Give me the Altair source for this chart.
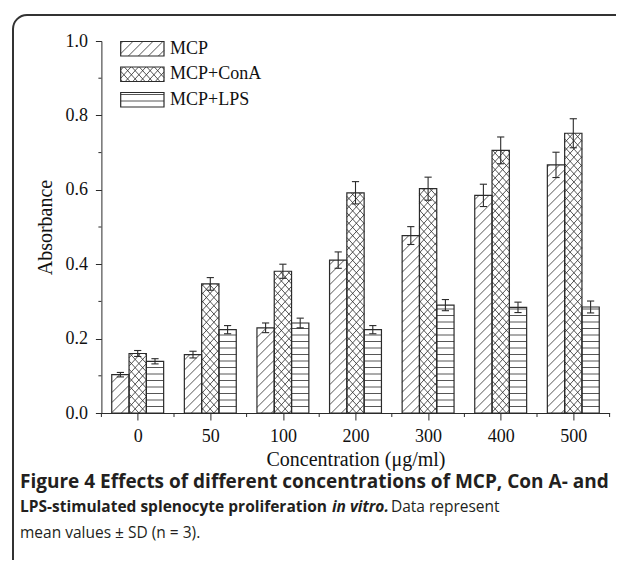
import math
import altair as alt
import pandas as pd

# ---------------- data ----------------
conc = ["0", "50", "100", "200", "300", "400", "500"]
series = ["MCP", "MCP+ConA", "MCP+LPS"]
mcp = [0.103, 0.157, 0.229, 0.411, 0.477, 0.585, 0.667]
mcp_sd = [0.006, 0.009, 0.013, 0.022, 0.024, 0.030, 0.034]
cona = [0.160, 0.347, 0.381, 0.592, 0.603, 0.706, 0.752]
cona_sd = [0.008, 0.017, 0.019, 0.030, 0.031, 0.036, 0.039]
lps = [0.139, 0.224, 0.242, 0.224, 0.290, 0.284, 0.285]
lps_sd = [0.007, 0.011, 0.013, 0.011, 0.015, 0.014, 0.016]
y_major = [0.0, 0.2, 0.4, 0.6, 0.8, 1.0]
y_minor = [0.1, 0.3, 0.5, 0.7, 0.9]

# ---------------- layout ----------------
W, H = 508.2, 372.0
XMIN, XMAX = -0.5, 6.5
PXX = W / (XMAX - XMIN)
PXY = H / 1.0
BW = 17.3 / PXX
INK = "#2b2b2b"
SERIF = "Liberation Serif"
SANS = "Open Sans"

xs = alt.Scale(domain=[XMIN, XMAX], nice=False, zero=False)
ys = alt.Scale(domain=[0, 1.0], nice=False, zero=False)

PATTERN = {"MCP": "diag", "MCP+ConA": "cross", "MCP+LPS": "horiz"}


def clip_line(s, c, x0, x1, y0, y1):
    xa, xb = c + y0 / s, c + y1 / s
    lo, hi = max(min(xa, xb), x0), min(max(xa, xb), x1)
    if hi - lo < 0.4:
        return None
    return (lo, s * (lo - c), hi, s * (hi - c))


def hatch(kind, x0, x1, y0, y1):
    """segments in pixel space (y up), clipped to the rectangle"""
    segs = []
    if kind == "horiz":
        sp = 6.5
        k = math.floor(y0 / sp)
        while k * sp < y1:
            yy = k * sp
            if yy > y0 + 0.8 and yy < y1 - 0.8:
                segs.append((x0, yy, x1, yy))
            k += 1
        return segs
    fams = [(1.0, 10.0)] if kind == "diag" else [(1.1, 7.5), (-1.1, 7.5)]
    for s, sp in fams:
        span = (y1 + 10) / abs(s)
        kmin = math.floor((x0 - span) / sp) - 1
        kmax = math.ceil((x1 + span) / sp) + 1
        for k in range(kmin, kmax + 1):
            seg = clip_line(s, k * sp, x0, x1, y0, y1)
            if seg:
                segs.append(seg)
    return segs


def px2d(xp, yp):
    return xp / PXX + XMIN, yp / PXY


bars, hat, errs = [], [], []
vals = {"MCP": (mcp, mcp_sd), "MCP+ConA": (cona, cona_sd), "MCP+LPS": (lps, lps_sd)}
for j, s in enumerate(series):
    v, sd = vals[s]
    for i, c in enumerate(conc):
        xc = i + (j - 1) * BW
        x0, x1 = xc - BW / 2, xc + BW / 2
        bars.append({"x0": x0, "x1": x1, "y0": 0.0, "v": v[i], "series": s, "conc": c})
        errs.append({"xc": xc, "lo": v[i] - sd[i], "hi": v[i] + sd[i],
                     "c0": xc - 3.6 / PXX, "c1": xc + 3.6 / PXX})
        px0, px1 = (x0 - XMIN) * PXX, (x1 - XMIN) * PXX
        for (a, b, cc, d) in hatch(PATTERN[s], px0, px1, 0.0, v[i] * PXY):
            xa, ya = px2d(a, b)
            xb, yb = px2d(cc, d)
            hat.append({"x": xa, "y": ya, "x2": xb, "y2": yb})

# legend drawn in the same coordinate space
leg_x0, leg_x1 = 19.3, 62.6          # plot pixels
leg_tops = [0.5, 26.0, 51.5]
leg_h = 14.5
leg_rows, leg_text = [], []
for s, top in zip(series, leg_tops):
    lx0, ly1 = px2d(leg_x0, H - top)
    lx1, ly0 = px2d(leg_x1, H - top - leg_h)
    leg_rows.append({"x0": lx0, "x1": lx1, "y0": ly0, "v": ly1})
    for (a, b, cc, d) in hatch(PATTERN[s], leg_x0, leg_x1, H - top - leg_h, H - top):
        xa, ya = px2d(a, b)
        xb, yb = px2d(cc, d)
        hat.append({"x": xa, "y": ya, "x2": xb, "y2": yb})
    tx, ty = px2d(leg_x1 + 6.0, H - top - leg_h / 2)
    leg_text.append({"x": tx, "y": ty, "label": s})

bars_df = pd.DataFrame(bars)
rect_df = pd.concat([bars_df[["x0", "x1", "y0", "v"]], pd.DataFrame(leg_rows)], ignore_index=True)
hat_df = pd.DataFrame(hat)
err_df = pd.DataFrame(errs)
legtxt_df = pd.DataFrame(leg_text)
xminor_df = pd.DataFrame({"m": [i - 0.5 for i in range(len(conc) + 1)]})
yminor_df = pd.DataFrame({"m": y_minor})

label_js = "[" + ",".join("'%s'" % c for c in conc) + "][datum.value]"

x_axis = alt.Axis(values=list(range(len(conc))), labelExpr=label_js, grid=False,
                  tickSize=7, tickColor=INK, domainColor=INK, labelColor="#111",
                  labelFont=SERIF, labelFontSize=18, labelPadding=7, labelFlush=False,
                  labelOverlap=False,
                  title="Concentration (μg/ml)", titleFont=SERIF, titleFontSize=20,
                  titleFontWeight="normal", titleColor="#111", titleX=W / 2, titleY=46,
                  titleBaseline="middle")
y_axis = alt.Axis(values=y_major, format=".1f", grid=False, tickSize=6, tickColor=INK,
                  domainColor=INK, labelColor="#111", labelFont=SERIF, labelFontSize=18,
                  labelPadding=8, labelOverlap=False, labelFlush=False,
                  title="Absorbance", titleFont=SERIF, titleFontSize=20,
                  titleFontWeight="normal", titleColor="#111", titleX=-56.4, titleY=H / 2,
                  titleBaseline="middle", titleAngle=270)


def X(f):
    return alt.X(f, type="quantitative", scale=xs, axis=x_axis)


def Y(f):
    return alt.Y(f, type="quantitative", scale=ys, axis=y_axis)


fill = alt.Chart(rect_df).mark_rect(fill="white").encode(
    x=X("x0"), x2="x1", y=Y("y0"), y2="v")

hatch_layer = alt.Chart(hat_df).mark_rule(stroke=INK, strokeWidth=0.8).encode(
    x=X("x"), x2="x2", y=Y("y"), y2="y2")

outline = alt.Chart(rect_df).mark_rect(fillOpacity=0, stroke=INK, strokeWidth=1.2).encode(
    x=X("x0"), x2="x1", y=Y("y0"), y2="v")

err_v = alt.Chart(err_df).mark_rule(stroke=INK, strokeWidth=1.1).encode(
    x=X("xc"), y=Y("lo"), y2="hi")
err_hi = alt.Chart(err_df).mark_rule(stroke=INK, strokeWidth=1.1).encode(
    x=X("c0"), x2="c1", y=Y("hi"))
err_lo = alt.Chart(err_df).mark_rule(stroke=INK, strokeWidth=1.1).encode(
    x=X("c0"), x2="c1", y=Y("lo"))

x_minor = alt.Chart(xminor_df).mark_rule(stroke=INK, strokeWidth=1).encode(
    x=X("m"), y=alt.value(H), y2=alt.value(H + 4))
y_minor_l = alt.Chart(yminor_df).mark_rule(stroke=INK, strokeWidth=1).encode(
    y=Y("m"), x=alt.value(0), x2=alt.value(-3))

leg_labels = alt.Chart(legtxt_df).mark_text(font=SERIF, fontSize=18, align="left",
                                             baseline="middle", color="#111").encode(
    x=X("x"), y=Y("y"), text="label:N")

one = pd.DataFrame({"a": [0]})
border = alt.Chart(one).mark_rect(fillOpacity=0, stroke="#333", strokeWidth=2, cornerRadius=14).encode(
    x=alt.value(-88.4), x2=alt.value(540), y=alt.value(-26), y2=alt.value(560))

cap_color = "#231f20"
captions = [
    ("Figure 4 Effects of different concentrations of MCP, Con A- and", -81.4, 447, 19, "bold", "normal"),
    ("LPS-stimulated splenocyte proliferation", -81.4, 471, 15.5, "bold", "normal"),
    ("in vitro.", 230.5, 471, 15.5, "bold", "italic"),
    ("Data represent", 289.5, 471, 15.5, "normal", "normal"),
    ("mean values ± SD (n = 3).", -81.4, 497, 15.5, "normal", "normal"),
]
cap_layers = []
for txt, cx, cy, fsz, fw, fs in captions:
    cap_layers.append(alt.Chart(one).mark_text(font=SANS, fontSize=fsz, fontWeight=fw, fontStyle=fs,
                                               align="left", baseline="alphabetic", color=cap_color,
                                               text=txt).encode(x=alt.value(cx), y=alt.value(cy)))

chart = alt.layer(fill, hatch_layer, outline, err_v, err_hi, err_lo, x_minor, y_minor_l,
                  leg_labels, border, *cap_layers).properties(
    width=W, height=H,
    autosize=alt.AutoSizeParams(type="none"),
    padding={"left": 93.4, "top": 33, "right": 6.4, "bottom": 147},
    background="white",
).configure_view(stroke=None)

chart.save("out.html", embed_options={"renderer": "svg", "actions": False})
